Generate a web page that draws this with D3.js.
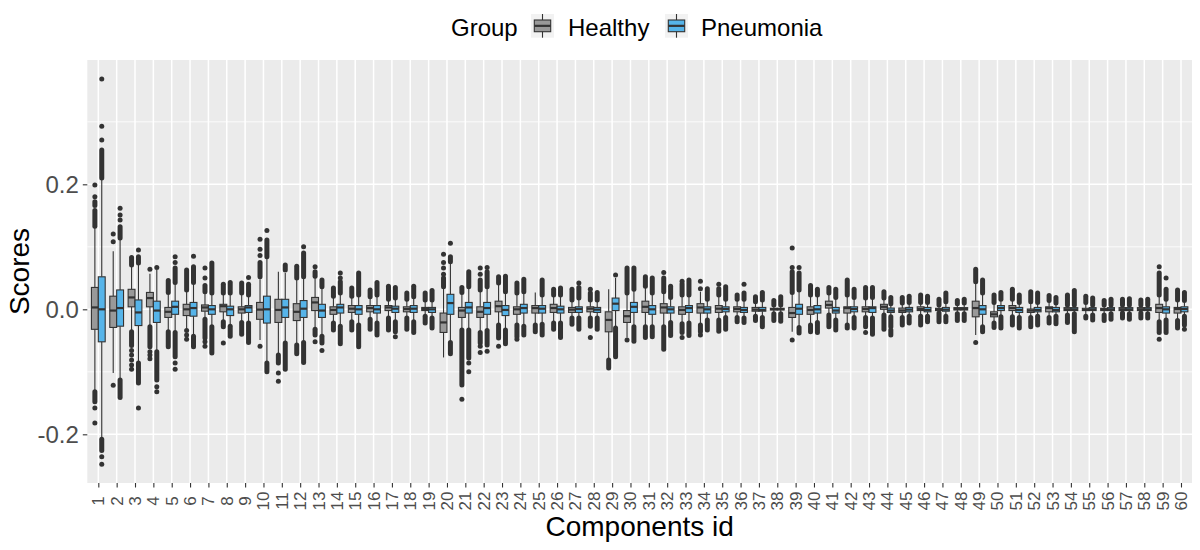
<!DOCTYPE html>
<html>
<head>
<meta charset="utf-8">
<script src="https://cdn.jsdelivr.net/npm/d3@7"></script>
<style>
  body { margin: 0; background: #fff; }
  svg { display: block; font-family: "Liberation Sans", Arial, sans-serif; }
</style>
</head>
<body>
<div id="chart"></div>
<script>
/********** Data **********/
var ids = ["1","2","3","4","5","6","7","8","9","10","11","12","13","14","15","16","17","18","19","20",
  "21","22","23","24","25","26","27","28","29","30","31","32","33","34","35","36","37","38","39","40",
  "41","42","43","44","45","46","47","48","49","50","51","52","53","54","55","56","57","58","59","60"]
var groups = ["Healthy", "Pneumonia"]

// [lower whisker, q1, median, q3, upper whisker]
var healthyStats = [
  [-0.129,-0.032,0.003,0.035,0.130], [-0.102,-0.029,-0.002,0.021,0.093], [-0.035,0.004,0.019,0.032,0.070],
  [-0.027,0.004,0.018,0.027,0.057], [-0.035,-0.013,-0.004,0.003,0.026], [-0.032,-0.010,0.000,0.008,0.030],
  [-0.015,-0.003,0.003,0.007,0.027], [-0.019,-0.004,0.005,0.008,0.025], [-0.020,-0.006,0.000,0.004,0.025],
  [-0.049,-0.016,-0.0005,0.011,0.048], [-0.070,-0.021,-0.001,0.016,0.060], [-0.056,-0.018,-0.004,0.009,0.049],
  [-0.031,-0.002,0.011,0.019,0.051], [-0.021,-0.008,-0.001,0.004,0.020], [-0.019,-0.005,0.001,0.006,0.020],
  [-0.015,-0.004,0.002,0.006,0.019], [-0.013,-0.002,0.003,0.006,0.015], [-0.013,-0.004,0.0005,0.004,0.015],
  [-0.010,-0.002,0.0005,0.003,0.014], [-0.077,-0.037,-0.021,-0.006,0.035], [-0.032,-0.013,-0.002,0.003,0.025],
  [-0.036,-0.013,-0.004,0.004,0.030], [-0.024,-0.004,0.005,0.013,0.041], [-0.024,-0.008,0.000,0.004,0.025],
  [-0.024,-0.006,0.002,0.006,0.027], [-0.021,-0.005,0.002,0.008,0.022], [-0.013,-0.005,-0.0005,0.003,0.014],
  [-0.013,-0.004,0.001,0.004,0.014], [-0.081,-0.036,-0.017,-0.004,0.032], [-0.045,-0.021,-0.011,-0.002,0.025],
  [-0.027,-0.005,0.004,0.013,0.036], [-0.027,-0.006,0.003,0.009,0.027], [-0.022,-0.008,-0.001,0.004,0.022],
  [-0.024,-0.006,0.003,0.009,0.028], [-0.016,-0.005,0.001,0.006,0.022], [-0.012,-0.004,0.0005,0.004,0.015],
  [-0.010,-0.003,-0.0005,0.003,0.011], [-0.006,-0.001,0.0003,0.0016,0.006], [-0.036,-0.013,-0.006,0.003,0.026],
  [-0.024,-0.008,-0.001,0.004,0.022], [-0.008,0.002,0.007,0.013,0.025], [-0.024,-0.006,0.002,0.004,0.022],
  [-0.012,-0.004,0.0005,0.004,0.017], [-0.008,0.000,0.004,0.008,0.017], [-0.012,-0.005,-0.002,0.002,0.009],
  [-0.010,-0.002,0.0005,0.004,0.010], [-0.005,-0.002,0.000,0.0016,0.006], [-0.006,-0.001,0.0005,0.0027,0.008],
  [-0.041,-0.012,0.002,0.013,0.043], [-0.021,-0.012,-0.008,-0.004,0.010], [-0.011,-0.002,0.002,0.006,0.015],
  [-0.012,-0.005,-0.002,0.0005,0.011], [-0.012,-0.004,0.002,0.004,0.013], [-0.008,-0.002,0.000,0.0027,0.006],
  [-0.010,-0.002,-0.001,0.0016,0.010], [-0.008,-0.002,0.000,0.0016,0.006], [-0.005,-0.002,0.000,0.0027,0.006],
  [-0.005,-0.002,0.000,0.0027,0.006], [-0.019,-0.005,0.002,0.008,0.022], [-0.017,-0.006,0.0005,0.003,0.014]
]
var pneumoniaStats = [
  [-0.205,-0.052,0.000,0.052,0.207], [-0.112,-0.027,0.002,0.031,0.112], [-0.083,-0.026,-0.005,0.015,0.072],
  [-0.067,-0.021,-0.002,0.013,0.063], [-0.036,-0.008,0.004,0.013,0.042], [-0.042,-0.011,0.002,0.011,0.042],
  [-0.027,-0.008,0.000,0.006,0.025], [-0.026,-0.010,0.000,0.005,0.025], [-0.021,-0.005,0.003,0.006,0.022],
  [-0.085,-0.022,0.000,0.021,0.083], [-0.053,-0.013,0.003,0.016,0.058], [-0.052,-0.013,0.001,0.014,0.051],
  [-0.042,-0.013,-0.002,0.008,0.035], [-0.026,-0.006,0.003,0.008,0.025], [-0.024,-0.008,0.000,0.006,0.022],
  [-0.021,-0.006,0.000,0.006,0.022], [-0.019,-0.005,0.001,0.005,0.017], [-0.019,-0.005,0.001,0.006,0.019],
  [-0.013,-0.005,0.000,0.003,0.014], [-0.052,-0.008,0.010,0.024,0.075], [-0.032,-0.006,0.003,0.011,0.035],
  [-0.033,-0.008,0.002,0.011,0.035], [-0.032,-0.010,-0.001,0.006,0.027], [-0.026,-0.006,0.002,0.008,0.027],
  [-0.023,-0.006,0.001,0.006,0.022], [-0.021,-0.006,0.000,0.005,0.022], [-0.013,-0.005,0.0005,0.004,0.017],
  [-0.013,-0.005,-0.0005,0.003,0.014], [-0.029,-0.002,0.009,0.018,0.050], [-0.027,-0.005,0.004,0.011,0.031],
  [-0.027,-0.008,0.000,0.006,0.025], [-0.020,-0.006,0.000,0.004,0.018], [-0.021,-0.005,0.002,0.006,0.022],
  [-0.016,-0.006,0.000,0.004,0.015], [-0.012,-0.004,0.0005,0.004,0.015], [-0.013,-0.005,-0.001,0.003,0.015],
  [-0.012,-0.003,-0.001,0.003,0.014], [-0.006,-0.001,0.0003,0.0016,0.006], [-0.028,-0.008,0.001,0.008,0.030],
  [-0.020,-0.006,0.000,0.006,0.022], [-0.016,-0.006,-0.002,0.003,0.018], [-0.012,-0.004,0.0005,0.004,0.018],
  [-0.013,-0.005,0.002,0.004,0.018], [-0.011,-0.005,-0.002,0.002,0.008], [-0.010,-0.004,-0.0005,0.003,0.010],
  [-0.010,-0.004,-0.001,0.003,0.010], [-0.010,-0.003,-0.0005,0.003,0.011], [-0.006,-0.001,0.0005,0.0027,0.009],
  [-0.027,-0.008,0.000,0.006,0.025], [-0.011,-0.002,0.002,0.006,0.015], [-0.012,-0.005,-0.001,0.003,0.010],
  [-0.010,-0.004,-0.001,0.003,0.010], [-0.010,-0.004,-0.001,0.003,0.009], [-0.006,-0.002,0.000,0.0027,0.006],
  [-0.008,-0.002,0.000,0.0027,0.009], [-0.006,-0.002,0.000,0.0027,0.006], [-0.006,-0.002,0.000,0.0027,0.006],
  [-0.006,-0.002,0.000,0.0027,0.006], [-0.016,-0.006,0.000,0.004,0.015], [-0.010,-0.004,0.0005,0.004,0.013]
]

// outliers: [v] = one point, [a, b] = a dense run of points from a to b
var healthyOutliers = [
  [[0.133,0.158],[0.166,0.172],[0.180],[0.199],[-0.132,-0.148],[-0.158],[-0.182]],
  [[0.108],[0.1205],[-0.1216]],
  [[0.071,0.083],[-0.036,-0.058],[-0.066],[-0.073],[-0.081],[-0.089],[-0.096]],
  [[0.064],[-0.028,-0.060],[-0.068],[-0.073],[-0.079]],
  [[0.027,0.046],[-0.036,-0.060]],
  [[0.031,0.063],[-0.034],[-0.041],[-0.048]],
  [[0.028,0.038],[0.050],[0.066],[-0.016,-0.046],[-0.052],[-0.059]],
  [[0.026,0.040],[-0.020,-0.028],[-0.054]],
  [[0.026,0.042],[-0.021,-0.040]],
  [[0.052,0.075],[0.086],[0.096],[0.112],[-0.059]],
  [[-0.073,-0.086],[-0.102],[-0.115]],
  [[0.050,0.069],[-0.057,-0.071]],
  [[0.053,0.060],[0.068],[-0.032,-0.041],[-0.052]],
  [[0.021,0.034],[-0.022,-0.033]],
  [[0.021,0.034],[-0.020,-0.033]],
  [[0.020,0.031],[-0.016,-0.032]],
  [[0.016,0.037],[-0.014,-0.033]],
  [[0.016,0.026],[-0.014,-0.032]],
  [[0.015,0.026],[-0.011,-0.022]],
  [[0.036,0.050],[0.056],[0.066],[0.075],[0.088]],
  [[0.027,0.035],[-0.033,-0.121],[-0.144]],
  [[0.031,0.047],[0.056],[0.066],[-0.037,-0.054],[-0.059],[-0.069]],
  [[0.042,0.052],[-0.025,-0.046],[-0.059]],
  [[0.026,0.042],[-0.025,-0.044],[-0.048]],
  [[-0.025,-0.036]],
  [[0.023,0.032],[-0.022,-0.032]],
  [[0.015,0.032],[-0.014,-0.024]],
  [[0.015,0.026],[0.032],[-0.014,-0.027],[-0.045]],
  [[-0.081,-0.094]],
  [[0.026,0.066],[-0.049]],
  [[0.037,0.052],[-0.028,-0.045]],
  [[0.028,0.050],[0.059],[-0.028,-0.064]],
  [[0.023,0.041],[0.045],[-0.023,-0.037],[-0.045]],
  [[0.033],[0.045],[-0.025,-0.036],[-0.041]],
  [[0.023,0.033],[0.040],[-0.017,-0.035]],
  [[0.016,0.023],[-0.013,-0.020]],
  [[0.012,0.020],[-0.011,-0.018]],
  [[0.007,0.014],[-0.007,-0.018]],
  [[0.027,0.060],[0.067],[0.098],[-0.049]],
  [[0.023,0.038],[-0.025,-0.036]],
  [[0.026,0.035],[-0.009,-0.028]],
  [[0.023,0.047],[-0.025,-0.030]],
  [[0.018,0.035],[-0.013,-0.028],[-0.037]],
  [[0.018,0.028],[-0.009,-0.032]],
  [[0.010,0.019],[-0.013,-0.025]],
  [[0.011,0.023],[-0.011,-0.025]],
  [[0.007,0.016],[-0.006,-0.020]],
  [[0.009,0.014],[-0.007,-0.018]],
  [[0.044,0.064],[-0.053]],
  [[0.011,0.023],[-0.022,-0.029]],
  [[0.016,0.032],[-0.012,-0.025]],
  [[0.012,0.028],[-0.013,-0.028]],
  [[0.014,0.022],[-0.013,-0.022]],
  [[0.007,0.023],[-0.009,-0.021]],
  [[0.011,0.021],[-0.011,-0.014]],
  [[0.007,0.014],[-0.009,-0.018]],
  [[0.007,0.016],[-0.006,-0.014]],
  [[0.007,0.015],[-0.006,-0.014]],
  [[0.023,0.058],[0.068],[-0.020,-0.037],[-0.048]],
  [[0.015,0.031],[-0.018,-0.030]]
]
var pneumoniaOutliers = [
  [[0.210,0.255],[0.271],[0.293],[0.3685],[-0.208,-0.226],[-0.236],[-0.248]],
  [[0.114,0.132],[0.143],[0.151],[0.1616],[-0.113,-0.141]],
  [[0.074,0.084],[0.095],[-0.086,-0.118],[-0.158]],
  [[0.067],[-0.068,-0.113],[-0.124],[-0.132]],
  [[0.043,0.066],[0.075],[0.084],[-0.037,-0.076],[-0.086],[-0.096]],
  [[0.043,0.068],[0.085],[-0.043,-0.060]],
  [[0.026,0.074],[-0.028,-0.070]],
  [[0.026,0.043],[-0.027,-0.043]],
  [[0.023,0.040],[0.051],[-0.022,-0.053]],
  [[0.084,0.111],[0.126],[-0.086,-0.100]],
  [[0.063,0.071],[-0.054,-0.096]],
  [[0.052,0.090],[0.100],[-0.053,-0.085]],
  [[0.036,0.047],[-0.043,-0.054],[-0.066]],
  [[0.026,0.044],[0.050],[0.058],[-0.027,-0.055]],
  [[0.023,0.058],[-0.025,-0.060]],
  [[0.023,0.043],[-0.022,-0.041]],
  [[0.018,0.035],[-0.020,-0.036],[-0.044]],
  [[0.020,0.037],[-0.020,-0.037]],
  [[0.015,0.030],[-0.014,-0.030]],
  [[0.076,0.084],[0.1056],[-0.053,-0.071]],
  [[0.036,0.060],[-0.033,-0.078],[-0.086],[-0.100]],
  [[0.036,0.060],[0.067],[-0.034,-0.057],[-0.067]],
  [[0.028,0.053],[-0.033,-0.055]],
  [[0.028,0.048],[-0.027,-0.041]],
  [[0.023,0.047],[-0.024,-0.041]],
  [[0.023,0.034],[-0.022,-0.045]],
  [[0.018,0.035],[0.042],[-0.014,-0.032]],
  [[0.015,0.027],[-0.014,-0.032]],
  [[0.055],[-0.030,-0.076]],
  [[0.032,0.066],[-0.028,-0.051]],
  [[0.026,0.050],[-0.028,-0.044]],
  [[0.019,0.037],[-0.021,-0.042]],
  [[0.023,0.047],[-0.022,-0.042]],
  [[0.016,0.033],[-0.017,-0.033]],
  [[0.016,0.036],[-0.013,-0.032]],
  [[0.016,0.026],[0.040],[-0.014,-0.021]],
  [[0.015,0.027],[-0.013,-0.028]],
  [[0.007,0.020],[-0.007,-0.019]],
  [[0.031,0.058],[0.067],[-0.029,-0.038]],
  [[0.023,0.032],[-0.021,-0.037]],
  [[0.019,0.032],[-0.017,-0.033]],
  [[0.019,0.032],[-0.013,-0.030]],
  [[0.019,0.035],[-0.014,-0.040]],
  [[0.009,0.019],[-0.012,-0.028],[-0.033,-0.041]],
  [[0.011,0.021],[-0.011,-0.022]],
  [[0.011,0.021],[-0.011,-0.020]],
  [[0.012,0.026],[-0.011,-0.020]],
  [[0.010,0.016],[-0.007,-0.018]],
  [[0.026,0.047],[-0.028,-0.036]],
  [[0.016,0.027],[-0.012,-0.030]],
  [[0.011,0.023],[-0.013,-0.030]],
  [[0.011,0.026],[-0.011,-0.025]],
  [[0.010,0.019],[-0.011,-0.023]],
  [[0.007,0.030],[-0.007,-0.036]],
  [[0.007,0.018],[-0.009,-0.017]],
  [[0.007,0.016],[-0.007,-0.016]],
  [[0.007,0.017],[-0.007,-0.016]],
  [[0.007,0.016],[-0.007,-0.014]],
  [[0.016,0.032],[0.050],[-0.017,-0.037]],
  [[0.014,0.027],[-0.011,-0.025],[-0.032]]
]

var yTicks = [-0.2, 0.0, 0.2]
var yMinor = [-0.1, 0.1, 0.3]
var colors = {Healthy: "#999999", Pneumonia: "#56B4E9"}

/********** Layout **********/
var W = 1200, H = 550
var panel = {left: 87.3, right: 1192, top: 60, bottom: 483}
var ink = "#333333"

var svg = d3.select("#chart").append("svg")
    .attr("width", W)
    .attr("height", H)

var x = d3.scaleLinear()
    .domain([0.4, ids.length + 0.6])
    .range([panel.left, panel.right])
var y = d3.scaleLinear()
    .domain([-0.2779, 0.3989])
    .range([panel.bottom, panel.top])

var unit = x(2) - x(1)
var boxW = 0.375 * unit
var dodge = {Healthy: -0.1875, Pneumonia: 0.1875}

// panel background + grid
svg.append("rect")
  .attr("x", panel.left).attr("y", panel.top)
  .attr("width", panel.right - panel.left).attr("height", panel.bottom - panel.top)
  .attr("fill", "#EBEBEB")

svg.append("g").selectAll("line").data(yMinor).join("line")
  .attr("x1", panel.left).attr("x2", panel.right)
  .attr("y1", d => y(d)).attr("y2", d => y(d))
  .attr("stroke", "#fff").attr("stroke-width", 0.8)
svg.append("g").selectAll("line").data(yTicks).join("line")
  .attr("x1", panel.left).attr("x2", panel.right)
  .attr("y1", d => y(d)).attr("y2", d => y(d))
  .attr("stroke", "#fff").attr("stroke-width", 1.5)
svg.append("g").selectAll("line").data(ids).join("line")
  .attr("x1", (d, i) => x(i + 1)).attr("x2", (d, i) => x(i + 1))
  .attr("y1", panel.top).attr("y2", panel.bottom)
  .attr("stroke", "#fff").attr("stroke-width", 1.5)

/********** Boxes **********/
var boxes = []
ids.forEach(function(id, i) {
  boxes.push({g: "Healthy", i: i, s: healthyStats[i], out: healthyOutliers[i]})
  boxes.push({g: "Pneumonia", i: i, s: pneumoniaStats[i], out: pneumoniaOutliers[i]})
})

var bx = svg.append("g").selectAll("g").data(boxes).join("g")
bx.each(function(d) {
  var g = d3.select(this)
  var cx = x(d.i + 1 + dodge[d.g])
  // outliers first (as ggplot does)
  d.out.forEach(function(o) {
    if (o.length === 1) {
      g.append("circle").attr("cx", cx).attr("cy", y(o[0])).attr("r", 2.5).attr("fill", ink)
    } else {
      g.append("line").attr("x1", cx).attr("x2", cx)
        .attr("y1", y(o[0])).attr("y2", y(o[1]))
        .attr("stroke", ink).attr("stroke-width", 5).attr("stroke-linecap", "round")
    }
  })
  // whiskers
  g.append("line").attr("x1", cx).attr("x2", cx).attr("y1", y(d.s[3])).attr("y2", y(d.s[4]))
    .attr("stroke", ink).attr("stroke-width", 1.1)
  g.append("line").attr("x1", cx).attr("x2", cx).attr("y1", y(d.s[1])).attr("y2", y(d.s[0]))
    .attr("stroke", ink).attr("stroke-width", 1.1)
  // box
  g.append("rect")
    .attr("x", cx - boxW / 2).attr("width", boxW)
    .attr("y", y(d.s[3])).attr("height", Math.max(0.5, y(d.s[1]) - y(d.s[3])))
    .attr("fill", colors[d.g]).attr("stroke", ink).attr("stroke-width", 1.1)
  // median
  g.append("line").attr("x1", cx - boxW / 2).attr("x2", cx + boxW / 2)
    .attr("y1", y(d.s[2])).attr("y2", y(d.s[2]))
    .attr("stroke", ink).attr("stroke-width", 2.2)
})

/********** Axes **********/
var yAxis = svg.append("g")
  .attr("transform", "translate(" + panel.left + ",0)")
  .call(d3.axisLeft(y).tickValues(yTicks).tickSize(4.5).tickPadding(4).tickFormat(d3.format(".1f")))
yAxis.select(".domain").remove()
yAxis.selectAll("line").attr("stroke", ink).attr("stroke-width", 1.1)
yAxis.selectAll("text")
  .style("font-size", "24px").attr("fill", "#4D4D4D")
  .text(d => d3.format(".1f")(d).replace("−", "-"))

var xAxis = svg.append("g")
  .attr("transform", "translate(0," + panel.bottom + ")")
  .call(d3.axisBottom(x).tickValues(d3.range(1, ids.length + 1)).tickSize(4.5)
    .tickFormat(d => ids[d - 1]))
xAxis.select(".domain").remove()
xAxis.selectAll("line").attr("stroke", ink).attr("stroke-width", 1.1)
xAxis.selectAll("text")
  .style("font-size", "17px").attr("fill", "#4D4D4D")
  .attr("y", 0).attr("dy", null)
  .attr("text-anchor", "middle")
  .attr("dominant-baseline", "central")
  .attr("transform", "translate(0,18) rotate(-90)")

// axis titles
svg.append("text")
  .attr("transform", "translate(19," + ((panel.top + panel.bottom) / 2) + ") rotate(-90)")
  .attr("text-anchor", "middle").attr("dominant-baseline", "central")
  .style("font-size", "28px").attr("fill", "#000")
  .text("Scores")
svg.append("text")
  .attr("x", (panel.left + panel.right) / 2).attr("y", 536)
  .attr("text-anchor", "middle")
  .style("font-size", "28px").attr("fill", "#000")
  .text("Components id")

/********** Legend **********/
var leg = svg.append("g")
leg.append("text").attr("x", 451).attr("y", 36).style("font-size", "24px").text("Group")
var keyX = {Healthy: 531, Pneumonia: 665}
var labX = {Healthy: 568, Pneumonia: 701}
groups.forEach(function(gname) {
  var k = leg.append("g").attr("transform", "translate(" + keyX[gname] + ",14)")
  k.append("rect").attr("width", 23).attr("height", 23.7).attr("fill", "#F2F2F2")
  k.append("line").attr("x1", 11.5).attr("x2", 11.5).attr("y1", 0).attr("y2", 23.7)
    .attr("stroke", ink).attr("stroke-width", 1.1)
  k.append("rect").attr("x", 3.3).attr("y", 6).attr("width", 16.4).attr("height", 11.7)
    .attr("fill", colors[gname]).attr("stroke", ink).attr("stroke-width", 1.1)
  k.append("line").attr("x1", 3.3).attr("x2", 19.7).attr("y1", 11.85).attr("y2", 11.85)
    .attr("stroke", ink).attr("stroke-width", 2.2)
  leg.append("text").attr("x", labX[gname]).attr("y", 36).style("font-size", "24px").text(gname)
})
</script>
</body>
</html>
